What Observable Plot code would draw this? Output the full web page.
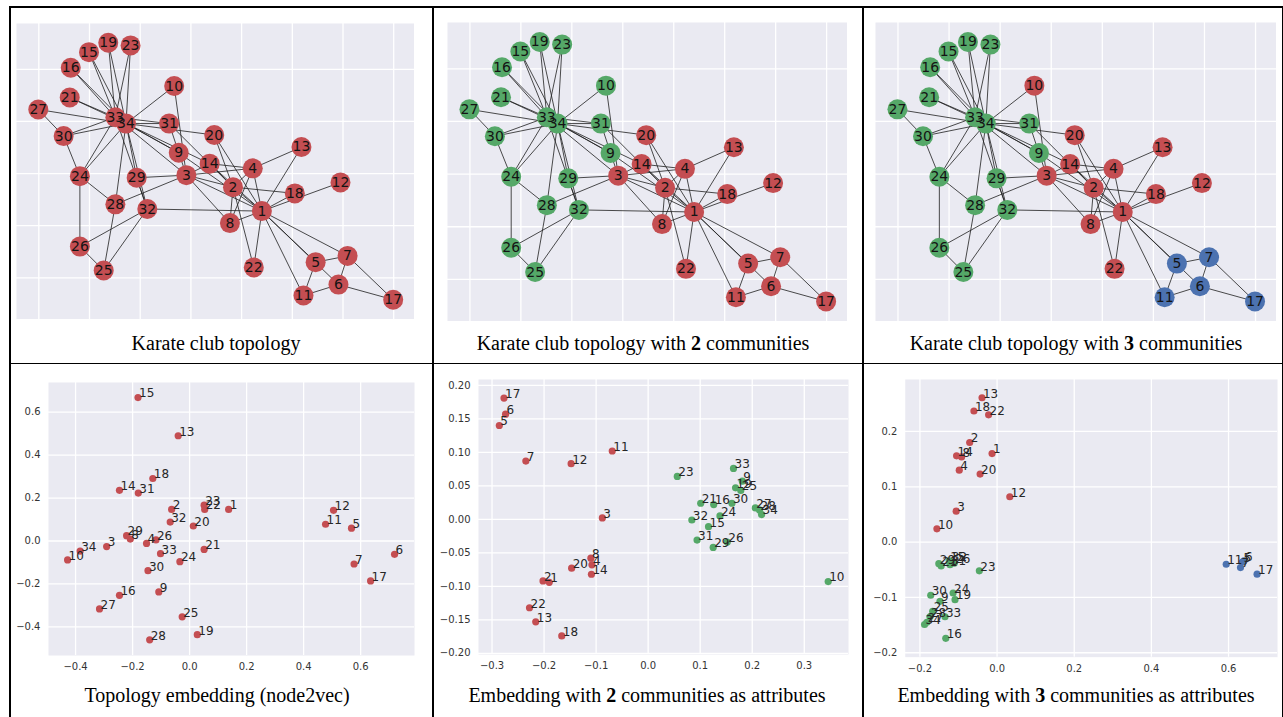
<!DOCTYPE html>
<html>
<head>
<meta charset="utf-8">
<script src="https://cdn.jsdelivr.net/npm/d3@7"></script>
<script src="https://cdn.jsdelivr.net/npm/@observablehq/plot@0.6"></script>
<style>
  body { margin: 0; background: #fff; }
  #fig { position: relative; width: 1283px; height: 717px; overflow: hidden; background: #fff; }
  .line { position: absolute; background: #000; }
  .panel { position: absolute; }
  .cap { position: absolute; width: 420px; text-align: center; font-family: "Liberation Serif", "Times New Roman", serif; font-size: 20px; line-height: 20px; color: #000; white-space: nowrap; }
</style>
</head>
<body>
<div id="fig"></div>
<script>
// ---------------- DATA ----------------
const nodeIds = [1,2,3,4,5,6,7,8,9,10,11,12,13,14,15,16,17,18,19,20,21,22,23,24,25,26,27,28,29,30,31,32,33,34];

// graph layout (spring layout coordinates)
const layoutX = [4.40,3.83,2.91,4.22,5.46,5.91,6.09,3.77,2.76,2.67,5.22,5.95,5.18,3.37,0.99,0.63,6.99,5.05,1.37,3.46,0.61,4.24,1.81,0.81,1.28,0.81,-0.01,1.51,1.93,0.49,2.57,2.14,1.51,1.72];
const layoutY = [-2.72,-2.26,-2.03,-1.90,-3.70,-4.13,-3.58,-2.95,-1.60,-0.32,-4.34,-2.17,-1.49,-1.81,0.33,0.03,-4.42,-2.38,0.51,-1.26,-0.54,-3.80,0.46,-2.05,-3.86,-3.40,-0.77,-2.59,-2.08,-1.28,-1.04,-2.68,-0.92,-1.04];

// Zachary karate club edges
const edgeSource = [1,1,1,1,1,1,1,1,1,1,1,1,1,1,1,1, 2,2,2,2,2,2,2, 3,3,3,3,3,3,3, 4,4,4, 5,5, 6,6,6, 7, 9,9,9, 10, 14, 15,15, 16,16, 19,19, 20, 21,21, 23,23, 24,24,24,24,24, 25,25,25, 26, 27,27, 28, 29,29, 30,30, 31,31, 32,32, 33, 3];
const edgeTarget = [2,3,4,5,6,7,8,9,11,12,13,14,18,20,22,32, 3,4,8,14,18,20,22, 4,8,9,10,14,28,29, 8,13,14, 7,11, 7,11,17, 17, 31,33,34, 34, 34, 33,34, 33,34, 33,34, 34, 33,34, 33,34, 26,28,30,33,34, 26,28,32, 32, 30,34, 34, 32,34, 33,34, 33,34, 33,34, 34, 33];
const edgeExtraSrc = [2];
const edgeExtraTgt = [31];

// community memberships (0 = red, 1 = green, 2 = blue)
const comm1 = [0,0,0,0,0,0,0,0,0,0,0,0,0,0,0,0,0,0,0,0,0,0,0,0,0,0,0,0,0,0,0,0,0,0];
const comm2 = [0,0,0,0,0,0,0,0,1,1,0,0,0,0,1,1,0,0,1,0,1,0,1,1,1,1,1,1,1,1,1,1,1,1];
const comm3 = [0,0,0,0,2,2,2,0,1,0,2,0,0,0,1,1,2,0,1,0,1,0,1,1,1,1,1,1,1,1,1,1,1,1];
const palette = ["#C44E52", "#55A868", "#4C72B0"];

// node2vec topology embedding
const n2vX = [0.137,-0.063,-0.291,-0.151,0.568,0.719,0.577,-0.208,-0.108,-0.428,0.477,0.505,-0.040,-0.246,-0.181,-0.246,0.635,-0.129,0.027,0.013,0.051,0.053,0.051,-0.034,-0.026,-0.118,-0.316,-0.140,-0.221,-0.146,-0.180,-0.068,-0.102,-0.384];
const n2vY = [0.147,0.147,-0.026,-0.011,0.060,-0.062,-0.107,0.009,-0.237,-0.088,0.078,0.143,0.490,0.236,0.668,-0.253,-0.186,0.291,-0.436,0.070,-0.039,0.147,0.167,-0.096,-0.353,0.005,-0.316,-0.460,0.025,-0.138,0.223,0.088,-0.059,-0.047];

// embedding with 2 communities as attributes
const emb2X = [-0.190,-0.202,-0.088,-0.108,-0.286,-0.274,-0.235,-0.110,0.181,0.346,-0.069,-0.148,-0.216,-0.109,0.116,0.126,-0.277,-0.166,0.168,-0.147,0.101,-0.228,0.056,0.138,0.178,0.152,0.206,0.214,0.125,0.161,0.094,0.084,0.164,0.218];
const emb2Y = [-0.094,-0.092,0.002,-0.068,0.140,0.157,0.087,-0.058,0.057,-0.093,0.102,0.083,-0.153,-0.082,-0.011,0.022,0.181,-0.174,0.047,-0.073,0.024,-0.132,0.064,0.005,0.043,-0.034,0.017,0.014,-0.042,0.024,-0.031,-0.001,0.076,0.007];

// embedding with 3 communities as attributes
const emb3X = [-0.013,-0.071,-0.106,-0.098,0.636,0.640,0.631,-0.092,-0.148,-0.156,0.594,0.033,-0.039,-0.105,-0.124,-0.133,0.674,-0.060,-0.109,-0.044,-0.145,-0.022,-0.046,-0.114,-0.167,-0.111,-0.182,-0.174,-0.151,-0.172,-0.122,-0.120,-0.135,-0.188];
const emb3Y = [0.160,0.180,0.056,0.130,-0.036,-0.034,-0.046,0.154,-0.107,0.024,-0.040,0.082,0.261,0.156,-0.034,-0.174,-0.058,0.237,-0.104,0.123,-0.043,0.230,-0.052,-0.092,-0.125,-0.038,-0.145,-0.135,-0.039,-0.096,-0.041,-0.035,-0.135,-0.149];

// grid / tick values
const graphGridX = [0,1,2,3,4,5,6,7];
const graphGridY = [0,-1,-2,-3,-4];
const n2vTicksX = [-0.4,-0.2,0.0,0.2,0.4,0.6];
const n2vTicksY = [-0.4,-0.2,0.0,0.2,0.4,0.6];
const emb2TicksX = [-0.3,-0.2,-0.1,0.0,0.1,0.2,0.3];
const emb2TicksY = [-0.20,-0.15,-0.10,-0.05,0.00,0.05,0.10,0.15,0.20];
const emb3TicksX = [-0.2,0.0,0.2,0.4,0.6];
const emb3TicksY = [-0.2,-0.1,0.0,0.1,0.2];

// ---------------- LAYOUT ----------------
const fig = document.getElementById("fig");
function addLine(l, t, w, h) {
  const d = document.createElement("div");
  d.className = "line";
  Object.assign(d.style, {left: l + "px", top: t + "px", width: w + "px", height: h + "px"});
  fig.appendChild(d);
}
addLine(9, 6, 1274, 1.5);
addLine(9, 6, 1.5, 711);
addLine(432, 6, 1.5, 711);
addLine(862, 6, 1.5, 711);
addLine(9, 362.5, 1274, 1.5);
addLine(1281.5, 6, 1.5, 711);

function addCaption(html, cx, top) {
  const d = document.createElement("div");
  d.className = "cap";
  d.innerHTML = html;
  d.style.left = (cx - 210) + "px";
  d.style.top = top + "px";
  fig.appendChild(d);
}

const idx = d3.range(nodeIds.length);
const allSrc = edgeSource.concat(edgeExtraSrc);
const allTgt = edgeTarget.concat(edgeExtraTgt);
const eidx = d3.range(allSrc.length);

function graphPanel(comm, frame) {
  const p = Plot.plot({
    width: frame.w, height: frame.h, margin: 0,
    style: {background: "transparent", fontFamily: "DejaVu Sans"},
    x: {domain: [-0.44, 7.41], axis: null},
    y: {domain: [-4.80, 0.88], axis: null},
    color: {type: "identity"},
    marks: [
      Plot.frame({fill: "#EAEAF2", stroke: null}),
      Plot.gridX(graphGridX, {stroke: "#fff", strokeOpacity: 1, strokeWidth: 1.3}),
      Plot.gridY(graphGridY, {stroke: "#fff", strokeOpacity: 1, strokeWidth: 1.3}),
      Plot.link(eidx, {
        x1: i => layoutX[allSrc[i] - 1], y1: i => layoutY[allSrc[i] - 1],
        x2: i => layoutX[allTgt[i] - 1], y2: i => layoutY[allTgt[i] - 1],
        stroke: "#222", strokeWidth: 0.9, strokeOpacity: 0.9
      }),
      Plot.dot(idx, {x: i => layoutX[i], y: i => layoutY[i], r: 10, fill: i => palette[comm[i]], stroke: null}),
      Plot.text(idx, {x: i => layoutX[i], y: i => layoutY[i], text: i => String(nodeIds[i]), fontSize: 14, fill: "#141414"})
    ]
  });
  const wrap = document.createElement("div");
  wrap.className = "panel";
  wrap.style.left = frame.x + "px";
  wrap.style.top = frame.y + "px";
  wrap.appendChild(p);
  fig.appendChild(wrap);
}

function scatterPanel(xs, ys, comm, domX, domY, ticksX, ticksY, fmtX, fmtY, frame) {
  const mL = 50, mR = 6, mT = 6, mB = 24;
  const p = Plot.plot({
    width: frame.w + mL + mR, height: frame.h + mT + mB,
    marginLeft: mL, marginRight: mR, marginTop: mT, marginBottom: mB,
    style: {background: "transparent", fontFamily: "DejaVu Sans", fontSize: "10px", color: "#333"},
    x: {domain: domX},
    y: {domain: domY},
    color: {type: "identity"},
    marks: [
      Plot.frame({fill: "#EAEAF2", stroke: null}),
      Plot.gridX(ticksX, {stroke: "#fff", strokeOpacity: 1, strokeWidth: 1.3}),
      Plot.gridY(ticksY, {stroke: "#fff", strokeOpacity: 1, strokeWidth: 1.3}),
      Plot.axisX(ticksX, {tickSize: 0, tickPadding: 7.5, tickFormat: d3.format(fmtX), label: null, fontSize: 10, fill: "#333"}),
      Plot.axisY(ticksY, {tickSize: 0, tickPadding: 8, tickFormat: d3.format(fmtY), label: null, fontSize: 10, fill: "#333"}),
      Plot.dot(idx, {x: i => xs[i], y: i => ys[i], r: 3.6, fill: i => palette[comm[i]], stroke: null}),
      Plot.text(idx, {x: i => xs[i], y: i => ys[i], text: i => String(nodeIds[i]), textAnchor: "start", dx: 1, dy: -4, fontSize: 12, fill: "#262626"})
    ]
  });
  const wrap = document.createElement("div");
  wrap.className = "panel";
  wrap.style.left = (frame.x - mL) + "px";
  wrap.style.top = (frame.y - mT) + "px";
  wrap.appendChild(p);
  fig.appendChild(wrap);
}

graphPanel(comm1, {x: 16, y: 23, w: 398, h: 296});
graphPanel(comm2, {x: 447, y: 22, w: 400, h: 299});
graphPanel(comm3, {x: 875, y: 22, w: 401, h: 299});

scatterPanel(n2vX, n2vY, comm1, [-0.495, 0.789], [-0.533, 0.738], n2vTicksX, n2vTicksY, ".1f", ".1f", {x: 48, y: 382, w: 366, h: 273});
scatterPanel(emb2X, emb2Y, comm2, [-0.326, 0.385], [-0.2018, 0.2087], emb2TicksX, emb2TicksY, ".1f", ".2f", {x: 478, y: 379, w: 370, h: 275});
scatterPanel(emb3X, emb3Y, comm3, [-0.238, 0.727], [-0.208, 0.294], emb3TicksX, emb3TicksY, ".1f", ".1f", {x: 905, y: 379, w: 374, h: 279});

addCaption("Karate club topology", 216, 333);
addCaption("Karate club topology with <b>2</b> communities", 643, 333);
addCaption("Karate club topology with <b>3</b> communities", 1076, 333);
addCaption("Topology embedding (node2vec)", 217, 685);
addCaption("Embedding with <b>2</b> communities as attributes", 647, 685);
addCaption("Embedding with <b>3</b> communities as attributes", 1076, 685);
</script>
</body>
</html>
